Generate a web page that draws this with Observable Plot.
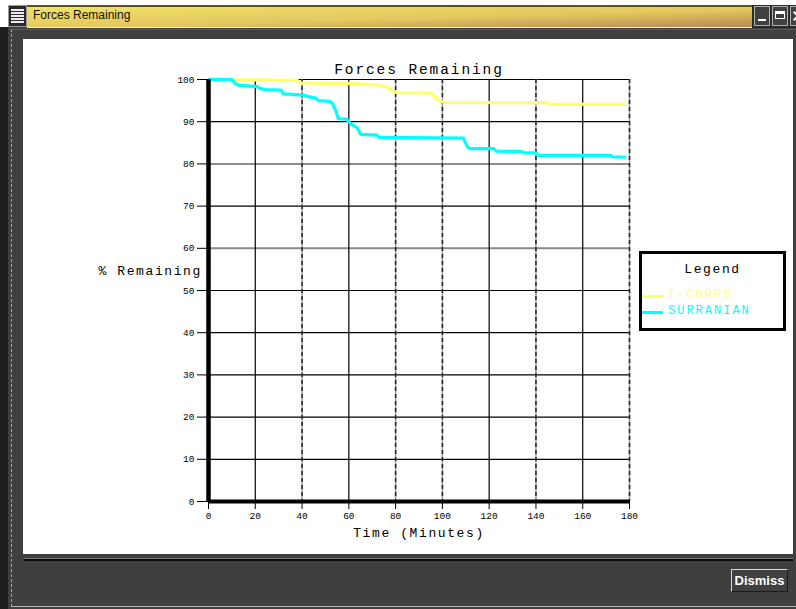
<!DOCTYPE html>
<html>
<head>
<meta charset="utf-8">
<script src="https://cdn.jsdelivr.net/npm/d3@7"></script>
<script src="https://cdn.jsdelivr.net/npm/@observablehq/plot@0.6"></script>
<style>
  html, body { margin: 0; padding: 0; }
  body { width: 796px; height: 609px; background: #3f3f3f; position: relative; overflow: hidden; font-family: "Liberation Sans", sans-serif; }
  .abs { position: absolute; }
  #chart svg { display: block; }
  .mono { font-family: "Liberation Mono", "DejaVu Sans Mono", monospace; }
</style>
</head>
<body>
<!-- window chrome -->
<div class="abs" style="left:0;top:0;width:796px;height:5px;background:#fff"></div>
<div class="abs" style="left:0;top:5px;width:8px;height:22px;background:#fff"></div>
<div class="abs" style="left:0;top:27px;width:8px;height:582px;background:#1e1e1e"></div>
<div class="abs" style="left:8px;top:5px;width:19px;height:22px;background:#2a2a2a;box-sizing:border-box;border:1px solid #9a9a9a">
  <div class="abs" style="left:2px;top:3px;width:13px;height:2px;background:#eee"></div>
  <div class="abs" style="left:2px;top:6px;width:13px;height:2px;background:#eee"></div>
  <div class="abs" style="left:2px;top:9px;width:13px;height:2px;background:#eee"></div>
  <div class="abs" style="left:2px;top:12px;width:13px;height:2px;background:#eee"></div>
  <div class="abs" style="left:2px;top:15px;width:13px;height:2px;background:#eee"></div>
</div>
<div class="abs" style="left:27px;top:5px;width:725px;height:22px;box-sizing:border-box;border-top:2px solid #5c5020;background:linear-gradient(to bottom right,#f0e268,#e2c85e 55%,#b88a55)"></div>
<div class="abs" style="left:33px;top:8px;font-size:12px;color:#111;font-family:'Liberation Sans',sans-serif">Forces Remaining</div>
<div class="abs" style="left:27px;top:27px;width:725px;height:1px;background:#f0f0f0"></div>
<div class="abs" style="left:752px;top:5px;width:44px;height:23px;background:#2c2c2c"></div>
<div class="abs" style="left:754px;top:6px;width:16px;height:20px;box-sizing:border-box;border:1px solid #b0b0b0;background:#404040">
  <div class="abs" style="left:3px;top:12px;width:8px;height:2px;background:#fff"></div>
</div>
<div class="abs" style="left:772px;top:6px;width:16px;height:20px;box-sizing:border-box;border:1px solid #b0b0b0;background:#404040">
  <div class="abs" style="left:2px;top:4px;width:10px;height:8px;box-sizing:border-box;border:1px solid #fff;border-top:3px solid #fff"></div>
</div>
<div class="abs" style="left:790px;top:6px;width:16px;height:20px;box-sizing:border-box;border:1px solid #b0b0b0;background:#404040;overflow:hidden">
  <div class="abs" style="left:1px;top:8px;width:12px;height:2px;background:#fff;transform:rotate(45deg)"></div>
  <div class="abs" style="left:1px;top:8px;width:12px;height:2px;background:#fff;transform:rotate(-45deg)"></div>
</div>

<div class="abs" style="left:11px;top:29px;width:800px;height:578px;box-sizing:border-box;border-left:1px dashed #a8a8a8;border-top:1px solid #5a5a5a;border-bottom:1px solid #b8b8b8"></div>

<div id="chart" class="abs" style="left:23px;top:39px;width:770px;height:515px;background:#fff"></div>

<div class="abs" style="left:24px;top:558px;width:769px;height:1px;background:#777"></div>
<div class="abs" style="left:24px;top:559px;width:769px;height:2px;background:#0a0a0a"></div>

<div class="abs" style="left:731px;top:569px;width:57px;height:23px;box-sizing:border-box;border:1px solid;border-color:#d8d8d8 #1a1a1a #1a1a1a #d8d8d8;background:#404040;color:#fff;font-weight:bold;font-size:13px;line-height:21px;text-align:center;font-family:'Liberation Sans',sans-serif">Dismiss</div>

<!-- legend -->
<div id="legend" class="abs mono" style="left:639px;top:251px;width:147px;height:80px;box-sizing:border-box;border:3px solid #000;background:#fff"></div>

<script>
// ---- data ----
const seriesNames = ["I-CORPS", "SURRANIAN"];
const seriesColors = ["#ffff70", "#00ffff"];

const icorpsTime  = [0, 38, 39, 63, 74, 77, 79, 81, 95, 96, 98, 100.5, 145, 146, 178];
const icorpsValue = [100, 99.8, 99.2, 99.0, 98.6, 98.1, 97.1, 96.9, 96.8, 96.3, 95.2, 94.6, 94.5, 94.1, 94.1];

const surranianTime  = [0, 10, 11.5, 13, 21, 22, 24, 31, 32, 41, 42, 46, 47, 52, 53, 54.5, 55.5, 59, 61, 63.5, 65, 72, 73, 109, 110.5, 111.5, 122, 123, 134, 135, 140, 141, 172, 172.5, 178];
const surranianValue = [100, 100, 99.0, 98.6, 98.3, 97.9, 97.6, 97.5, 96.6, 96.3, 96.0, 95.6, 95.0, 94.8, 94.3, 92.5, 90.7, 90.6, 89.4, 88.6, 87.0, 86.8, 86.3, 86.1, 84.2, 83.6, 83.6, 83.0, 82.9, 82.6, 82.6, 82.0, 82.0, 81.7, 81.6];

const xTicks = [0, 20, 40, 60, 80, 100, 120, 140, 160, 180];
const yTicks = [0, 10, 20, 30, 40, 50, 60, 70, 80, 90, 100];

const chartTitle = "Forces Remaining";
const xTitle = "Time (Minutes)";
const yTitle = "% Remaining";
const legendTitle = "Legend";

// ---- build tables ----
const icorps = icorpsTime.map((t, i) => ({t, v: icorpsValue[i]}));
const surranian = surranianTime.map((t, i) => ({t, v: surranianValue[i]}));

const grayGrid = new Set([60, 80]);
const solidX = new Set([20, 60, 120, 160]);

const chart = Plot.plot({
  width: 770,
  height: 515,
  marginLeft: 185,
  marginRight: 164,
  marginTop: 40,
  marginBottom: 53,
  style: {fontFamily: "'Liberation Mono', 'DejaVu Sans Mono', monospace", fontSize: "9.5px", color: "#000", background: "#fff", overflow: "visible"},
  x: {domain: [0, 180]},
  y: {domain: [0, 100]},
  marks: [
    // horizontal grid
    Plot.ruleY(yTicks.filter(v => v > 0 && v < 100 && !grayGrid.has(v)), {stroke: "#000", strokeWidth: 1.2}),
    Plot.ruleY(yTicks.filter(v => grayGrid.has(v)), {stroke: "#8a8a8a", strokeWidth: 2}),
    Plot.ruleY([100], {stroke: "#000", strokeWidth: 1.2}),
    // vertical grid
    Plot.ruleX(xTicks.filter(v => v > 0 && solidX.has(v)), {stroke: "#000", strokeWidth: 1.2}),
    Plot.ruleX(xTicks.filter(v => v > 0 && !solidX.has(v)), {stroke: "#9a9a9a", strokeWidth: 1.5}),
    Plot.ruleX(xTicks.filter(v => v > 0 && !solidX.has(v)), {stroke: "#222", strokeWidth: 1.5, strokeDasharray: "4,3"}),
    // series
    Plot.line(icorps, {x: "t", y: "v", stroke: seriesColors[0], strokeWidth: 3.2}),
    Plot.line(surranian, {x: "t", y: "v", stroke: seriesColors[1], strokeWidth: 3.2}),
    // thick axes
    Plot.ruleX([0], {stroke: "#000", strokeWidth: 4.5, y1: 0, y2: 100}),
    Plot.ruleY([0], {stroke: "#000", strokeWidth: 4, x1: 0, x2: 180}),
    // axes
    Plot.axisX({ticks: xTicks, tickSize: 8, tickPadding: 3, label: null, fontSize: 9.5}),
    Plot.axisY({ticks: yTicks, tickSize: 11, tickPadding: 3, label: null, fontSize: 9.5}),
    // titles
    Plot.text([chartTitle], {frameAnchor: "top", lineAnchor: "middle", dy: -10, fontSize: 14.5, fill: "#000"}),
    Plot.text([xTitle], {frameAnchor: "bottom", lineAnchor: "middle", dy: 31, fontSize: 13, fill: "#000"}),
    Plot.text([yTitle], {frameAnchor: "left", dx: -110, dy: -20, textAnchor: "start", fontSize: 13, fill: "#000"})
  ]
});
document.getElementById("chart").appendChild(chart);

// wider letter spacing, like the original bitmap Courier
d3.select(chart).selectAll("text").each(function () {
  const s = this.textContent;
  if (s === chartTitle) this.style.letterSpacing = "1.9px";
  else if (s === xTitle || s === yTitle) this.style.letterSpacing = "1.6px";
});

// ---- legend ----
const legend = document.getElementById("legend");
const lt = document.createElement("div");
lt.textContent = legendTitle;
lt.style.cssText = "position:absolute;left:0;width:141px;top:8px;text-align:center;font-size:13px;letter-spacing:1.6px;color:#000";
legend.appendChild(lt);
seriesNames.forEach((name, i) => {
  const sw = document.createElement("div");
  sw.style.cssText = `position:absolute;left:0px;top:${41 + i * 16}px;width:21px;height:3px;background:${seriesColors[i]}`;
  legend.appendChild(sw);
  const tx = document.createElement("div");
  tx.textContent = name;
  tx.style.cssText = `position:absolute;left:26px;top:${34 + i * 16}px;font-size:12px;letter-spacing:2px;color:${seriesColors[i]};line-height:14px`;
  legend.appendChild(tx);
});
</script>
</body>
</html>
